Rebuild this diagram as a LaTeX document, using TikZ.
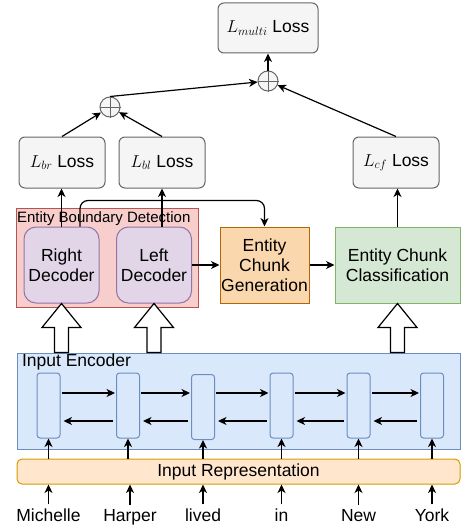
\documentclass[tikz,border=0pt]{standalone}
\usepackage{amssymb,amsmath}
\usepackage{fontspec}
\setmainfont{Liberation Sans}
\usepackage{tikz}
\usetikzlibrary{shapes,arrows,arrows.meta}
\usetikzlibrary{calc}

\definecolor{lossfill}{HTML}{F5F5F5}
\definecolor{lossline}{HTML}{666666}
\definecolor{redfill}{HTML}{F8CECC}
\definecolor{redline}{HTML}{B85450}
\definecolor{purplefill}{HTML}{E1D5E7}
\definecolor{purpleline}{HTML}{9673A6}
\definecolor{orangefill}{HTML}{FAD7AC}
\definecolor{orangeline}{HTML}{B46504}
\definecolor{greenfill}{HTML}{D5E8D4}
\definecolor{greenline}{HTML}{82B366}
\definecolor{bluefill}{HTML}{DAE8FC}
\definecolor{blueline}{HTML}{6C8EBF}
\definecolor{repfill}{HTML}{FFE6CC}
\definecolor{repline}{HTML}{D79B00}

\tikzstyle{line} = [draw, -{Stealth[length=8.5pt, width=8pt, inset=2.5pt]}, line width=1.2pt]
\tikzstyle{txt} = [font=\fontsize{17.5}{20}\selectfont]
\tikzstyle{lossbox} = [txt, draw=lossline, fill=lossfill, rounded corners=6pt, minimum width=86pt, minimum height=51pt, inner sep=1pt]
\tikzstyle{sumnode} = [circle, draw=lossline, fill=lossfill, minimum size=20pt, inner sep=0pt]
\tikzstyle{decoder} = [txt, draw=purpleline, fill=purplefill, rounded corners=12pt, minimum width=75pt, minimum height=76pt, align=center, inner sep=1pt]
\tikzstyle{stage} = [txt, minimum height=76pt, align=center, inner sep=1pt]
\tikzstyle{cell} = [draw=blueline, fill=bluefill, rounded corners=3pt, minimum width=23pt, minimum height=65pt, inner sep=0pt]
\tikzstyle{hollow} = [draw, fill=white, line width=1.2pt]

\newcommand{\hollowup}[2]{%
  \path[hollow] ($(#1)+(-7,0)$) -- ($(#2)+(-7,24)$) -- ($(#2)+(-19.5,24)$) -- (#2)
    -- ($(#2)+(19.5,24)$) -- ($(#2)+(7,24)$) -- ($(#1)+(7,0)$) -- cycle;}

\begin{document}
\begin{tikzpicture} [x=1pt, y=-1pt, line width=1pt]

        \useasboundingbox (0,0) rectangle (462,527);

        % losses
        \node[lossbox, minimum width=100pt, minimum height=50pt] (multi) at (268,28) {$L_{multi}$ Loss};
        \node[sumnode] (sumtop) at (268,81) {};
        \node[sumnode] (sumleft) at (110,107) {};
        \draw[lossline] (sumtop.north) -- (sumtop.south) (sumtop.west) -- (sumtop.east);
        \draw[lossline] (sumleft.north) -- (sumleft.south) (sumleft.west) -- (sumleft.east);
        \node[lossbox] (lbr) at (62,162.5) {$L_{br}$ Loss};
        \node[lossbox] (lbl) at (162,162.5) {$L_{bl}$ Loss};
        \node[lossbox] (lcf) at (396,162.5) {$L_{cf}$ Loss};

        % boundary detection
        \node[draw=redline, fill=redfill, minimum width=182pt, minimum height=99pt] (ebd) at (107,257.5) {};
        \node[font=\fontsize{15}{18}\selectfont, anchor=base west, inner sep=0pt] (ebdlabel) at ($(ebd.north west)+(1,15)$) {Entity Boundary Detection};
        \node[decoder] (rdec) at (61.5,265) {Right\\Decoder};
        \node[decoder] (ldec) at (154,265) {Left\\Decoder};
        \node[stage, draw=orangeline, fill=orangefill, minimum width=89pt] (gen) at (264.5,265) {Entity\\Chunk\\Generation};
        \node[stage, draw=greenline, fill=greenfill, minimum width=125pt] (cls) at (397.5,265) {Entity Chunk\\Classification};

        % encoder
        \node[draw=blueline, fill=bluefill, minimum width=443pt, minimum height=96pt] (enc) at (238.5,401) {};
        \node[txt, anchor=base west, inner sep=0pt] (enclabel) at ($(enc.north west)+(5,14)$) {Input Encoder};
        \node[cell] (c1) at (48.5,405.5) {};
        \node[cell] (c2) at (128,405.5) {};
        \node[cell] (c3) at (203,407) {};
        \node[cell] (c4) at (281.5,405.5) {};
        \node[cell] (c5) at (358.5,405.5) {};
        \node[cell] (c6) at (432,405.5) {};
        \node[txt, draw=repline, fill=repfill, rounded corners=5pt, minimum width=443pt, minimum height=25pt, inner sep=0pt] (rep) at (238.5,471.5) {Input Representation};

        % words
        \node[txt, anchor=base] (w1) at (48.5,521) {Michelle};
        \node[txt, anchor=base] (w2) at (130,521) {Harper};
        \node[txt, anchor=base] (w3) at (203,521) {lived};
        \node[txt, anchor=base] (w4) at (281.5,521) {in};
        \node[txt, anchor=base] (w5) at (358.5,521) {New};
        \node[txt, anchor=base] (w6) at (432,521) {York};

        \path [line] (w1.north) -- (w1.north |- rep.south);
        \path [line] (w2.north) -- (w2.north |- rep.south);
        \path [line] (w3.north) -- (w3.north |- rep.south);
        \path [line] (w4.north) -- (w4.north |- rep.south);
        \path [line] (w5.north) -- (w5.north |- rep.south);
        \path [line] (w6.north) -- (w6.north |- rep.south);

        \path [line] (c1 |- rep.north) -- (c1.south);
        \path [line] (c2 |- rep.north) -- (c2.south);
        \path [line] (c3 |- rep.north) -- (c3.south);
        \path [line] (c4 |- rep.north) -- (c4.south);
        \path [line] (c5 |- rep.north) -- (c5.south);
        \path [line] (c6 |- rep.north) -- (c6.south);

        \path [line] ($(c1.east)+(1,-12.5)$) -- ($(c2.west)+(-1,-12.5)$);
        \path [line] ($(c2.east)+(1,-12.5)$) -- ($(c3.west)+(-1,-14)$);
        \path [line] ($(c3.east)+(1,-14)$) -- ($(c4.west)+(-1,-12.5)$);
        \path [line] ($(c4.east)+(1,-12.5)$) -- ($(c5.west)+(-1,-12.5)$);
        \path [line] ($(c5.east)+(1,-12.5)$) -- ($(c6.west)+(-1,-12.5)$);
        \path [line] ($(c2.west)+(-3,15.5)$) -- ($(c1.east)+(3,15.5)$);
        \path [line] ($(c3.west)+(-3,14)$) -- ($(c2.east)+(3,15.5)$);
        \path [line] ($(c4.west)+(-3,15.5)$) -- ($(c3.east)+(3,14)$);
        \path [line] ($(c5.west)+(-3,15.5)$) -- ($(c4.east)+(3,15.5)$);
        \path [line] ($(c6.west)+(-3,15.5)$) -- ($(c5.east)+(3,15.5)$);

        % hollow arrows
        \coordinate (fa1) at (enc.north -| rdec.south);
        \coordinate (fa2) at (enc.north -| ldec.south);
        \coordinate (fa3) at (enc.north -| cls.south);
        \hollowup{fa1}{rdec.south}
        \hollowup{fa2}{ldec.south}
        \hollowup{fa3}{cls.south}

        % upper connectors
        \path [line] (ldec.east) -- (gen.west);
        \path [line] (gen.east) -- (cls.west);
        \path [line, rounded corners=8pt] ($(rdec.north)+(18.5,0)$) |- ($(gen.north)+(0,-26)$) -- (gen.north);
        \path [line] (rdec.north) -- (rdec.north |- lbr.south);
        \path [line] (lbl.south |- ldec.north) -- (lbl.south);
        \path [line] (cls.north) -- (cls.north |- lcf.south);

        \path [line] (lbr.north) -- (sumleft);
        \path [line] (lbl.north) -- (sumleft);
        \path [line] (sumleft.north) -- (sumtop);
        \path [line] (lcf.north) -- (sumtop);
        \path [line] (sumtop.north) -- (multi.south);

        \end{tikzpicture}
\end{document}
